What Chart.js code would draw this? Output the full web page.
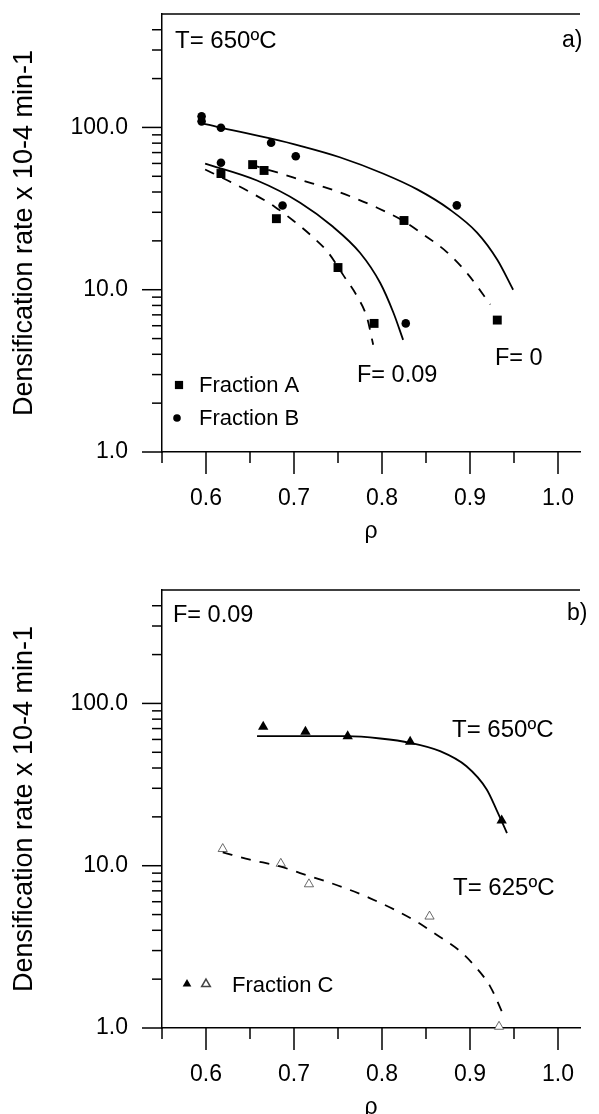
<!DOCTYPE html>
<html>
<head>
<meta charset="utf-8">
<script src="https://cdn.jsdelivr.net/npm/chart.js@4.4.1/dist/chart.umd.min.js"></script>
<style>
  html, body { margin: 0; padding: 0; background: #fff; overflow: hidden; }
  #wrap { position: relative; width: 599px; height: 1114px; overflow: hidden; }
  canvas { position: absolute; left: 0; }
  #chartA { top: 0; }
  #chartB { top: 576px; }
</style>
</head>
<body>
<div id="wrap">
  <canvas id="chartA" width="599" height="576"></canvas>
  <canvas id="chartB" width="599" height="576"></canvas>
</div>
<script>
// axis ticks (same for both panels)
const xMajor = [0.6, 0.7, 0.8, 0.9, 1.0];
const xMinor = [0.55, 0.65, 0.75, 0.85, 0.95];
const yMajor = [1, 10, 100];
const yMinor = [2, 3, 4, 5, 6, 7, 8, 9, 20, 30, 40, 50, 60, 70, 80, 90, 200, 300, 400];

// ---- panel a)  T = 650ºC, fractions A and B ----
const fracA_rho  = [0.617, 0.653, 0.666, 0.680, 0.750, 0.791, 0.825, 0.931];
const fracA_rate = [52.0, 59.0, 54.3, 27.4, 13.7, 6.2, 26.7, 6.5];
const fracB_rho  = [0.595, 0.595, 0.617, 0.617, 0.674, 0.687, 0.702, 0.827, 0.885];
const fracB_rate = [117, 109, 99.6, 60.6, 80.5, 33.0, 66.5, 6.2, 33.1];

// fitted curves
const fitF0B_rho  = [0.596, 0.619, 0.673, 0.707, 0.752, 0.801, 0.840, 0.877, 0.908, 0.931, 0.949];
const fitF0B_rate = [106, 99, 85.5, 77, 65.5, 52, 41.5, 31.2, 22.5, 15.3, 10.0];
const fitF0A_rho  = [0.650, 0.681, 0.710, 0.738, 0.764, 0.794, 0.824, 0.847, 0.874, 0.898, 0.923];
const fitF0A_rate = [59.1, 52.8, 47.1, 42.3, 37.6, 32.1, 26.6, 21.9, 17.0, 12.4, 8.1];
const fitF009B_rho  = [0.599, 0.658, 0.707, 0.744, 0.775, 0.798, 0.813, 0.824];
const fitF009B_rate = [59.9, 47.1, 34.4, 24.5, 16.9, 11.0, 7.21, 4.91];
const fitF009A_rho  = [0.599, 0.627, 0.655, 0.678, 0.699, 0.721, 0.739, 0.756, 0.772, 0.783, 0.790];
const fitF009A_rate = [55.1, 46.4, 38.6, 32.5, 26.7, 21.2, 16.9, 12.3, 9.05, 6.72, 4.58];

// ---- panel b)  F = 0.09, fraction C ----
const fracC650_rho  = [0.665, 0.713, 0.761, 0.832, 0.936];
const fracC650_rate = [71.8, 66.9, 62.8, 58.0, 19.0];
const fracC625_rho  = [0.619, 0.685, 0.717, 0.854, 0.933];
const fracC625_rate = [12.7, 10.3, 7.7, 4.87, 1.02];
const fit650_rho  = [0.658, 0.707, 0.760, 0.798, 0.832, 0.866, 0.896, 0.919, 0.930, 0.942];
const fit650_rate = [62.8, 62.8, 62.8, 60.8, 57.2, 50.8, 41.0, 29.5, 22.2, 15.9];
const fit625_rho  = [0.619, 0.650, 0.684, 0.707, 0.733, 0.760, 0.786, 0.813, 0.839, 0.862, 0.887, 0.906, 0.923, 0.938];
const fit625_rate = [12.1, 10.9, 9.91, 9.01, 8.12, 7.21, 6.32, 5.40, 4.53, 3.75, 3.03, 2.39, 1.80, 1.20];

const FONT = '"Liberation Sans", Arial, sans-serif';

function pts(xs, ys) {
  return xs.map((x, i) => ({ x: x, y: ys[i] }));
}

function markers(label, xs, ys, style) {
  return Object.assign({
    label: label,
    data: pts(xs, ys),
    showLine: false,
    backgroundColor: '#000',
    borderColor: '#000',
    borderWidth: 0,
    clip: false
  }, style);
}

function curve(label, xs, ys, dashed) {
  return {
    label: label,
    data: pts(xs, ys),
    showLine: true,
    fill: false,
    borderColor: '#000',
    borderWidth: 1.8,
    borderDash: dashed ? [10, 9] : [],
    pointRadius: 0,
    pointHoverRadius: 0,
    cubicInterpolationMode: 'monotone'
  };
}

// no extra label padding around the plot: the plot box is fixed
function noPad(s) {
  s.paddingTop = 0; s.paddingBottom = 0; s.paddingLeft = 0; s.paddingRight = 0;
}

// ticks, top frame line, in-plot texts and the small legend
const decorPlugin = {
  id: 'decor',
  afterDraw(chart, args, opts) {
    const ctx = chart.ctx;
    const area = chart.chartArea;
    const xs = chart.scales.x, ys = chart.scales.y;
    ctx.save();
    ctx.strokeStyle = '#000';
    ctx.lineWidth = 1.5;
    ctx.beginPath();
    ctx.moveTo(area.left, area.top);
    ctx.lineTo(area.right, area.top);
    ctx.stroke();

    const tick = (x1, y1, x2, y2) => {
      ctx.beginPath(); ctx.moveTo(x1, y1); ctx.lineTo(x2, y2); ctx.stroke();
    };
    xMajor.forEach(v => { const p = xs.getPixelForValue(v); tick(p, area.bottom, p, area.bottom + 22); });
    xMinor.forEach(v => { const p = xs.getPixelForValue(v); tick(p, area.bottom, p, area.bottom + 11); });
    yMajor.forEach(v => { const p = ys.getPixelForValue(v); tick(area.left - 20, p, area.left, p); });
    yMinor.forEach(v => { const p = ys.getPixelForValue(v); tick(area.left - 10, p, area.left, p); });

    ctx.fillStyle = '#000';
    ctx.textBaseline = 'alphabetic';
    ctx.textAlign = 'left';
    (opts.texts || []).forEach(t => {
      ctx.font = t.size + 'px ' + FONT;
      ctx.fillText(t.text, area.left + t.dx, area.top + t.dy);
    });
    (opts.keys || []).forEach(k => {
      ctx.fillStyle = k.fill;
      ctx.strokeStyle = k.stroke || '#000';
      Chart.helpers.drawPoint(ctx, {
        pointStyle: k.style, radius: k.radius, rotation: 0, borderWidth: k.borderWidth || 0
      }, area.left + k.dx, area.top + k.dy);
    });
    ctx.restore();
  }
};

function options(texts, keys) {
  return {
    responsive: false,
    animation: false,
    layout: { padding: { top: 14, right: 19, left: 0, bottom: 0 } },
    plugins: {
      legend: { display: false },
      tooltip: { enabled: false },
      decor: { texts: texts, keys: keys }
    },
    scales: {
      x: {
        type: 'linear',
        min: 0.55,
        max: 1.025,
        afterBuildTicks: s => { s.ticks = xMajor.map(v => ({ value: v })); },
        afterFit: s => { s.height = 124; noPad(s); },
        grid: { display: false, drawTicks: false },
        border: { display: true, color: '#000', width: 1.5 },
        ticks: {
          color: '#000',
          font: { family: FONT, size: 23 },
          padding: 33,
          autoSkip: false,
          maxRotation: 0,
          callback: v => Number(v).toFixed(1)
        },
        title: {
          display: true,
          text: 'ρ',
          color: '#000',
          font: { family: FONT, size: 23 },
          padding: { top: 0, bottom: 31 }
        }
      },
      y: {
        type: 'logarithmic',
        min: 1,
        max: 500,
        afterBuildTicks: s => { s.ticks = yMajor.map(v => ({ value: v })); },
        afterFit: s => { s.width = 162; noPad(s); },
        grid: { display: false, drawTicks: false },
        border: { display: true, color: '#000', width: 1.5 },
        ticks: {
          color: '#000',
          font: { family: FONT, size: 23 },
          padding: 34,
          autoSkip: false,
          callback: v => Number(v).toFixed(1)
        },
        title: {
          display: true,
          text: 'Densification rate x 10-4 min-1',
          color: '#000',
          font: { family: FONT, size: 27 },
          padding: { top: 8, bottom: 0 }
        }
      }
    }
  };
}

new Chart(document.getElementById('chartA'), {
  type: 'scatter',
  data: {
    datasets: [
      curve('F= 0, fraction B', fitF0B_rho, fitF0B_rate, false),
      curve('F= 0, fraction A', fitF0A_rho, fitF0A_rate, true),
      curve('F= 0.09, fraction B', fitF009B_rho, fitF009B_rate, false),
      curve('F= 0.09, fraction A', fitF009A_rho, fitF009A_rate, true),
      markers('Fraction A', fracA_rho, fracA_rate, { pointStyle: 'rect', pointRadius: 6.3 }),
      markers('Fraction B', fracB_rho, fracB_rate, { pointStyle: 'circle', pointRadius: 4.3 })
    ]
  },
  options: options(
    [
      { text: 'T= 650ºC', dx: 13, dy: 34, size: 24 },
      { text: 'a)', dx: 400, dy: 33, size: 23 },
      { text: 'F= 0.09', dx: 195, dy: 368, size: 23.5 },
      { text: 'F= 0', dx: 333, dy: 351, size: 23.5 },
      { text: 'Fraction A', dx: 37, dy: 378, size: 22 },
      { text: 'Fraction B', dx: 37, dy: 411, size: 22 }
    ],
    [
      { style: 'rect', radius: 5.8, dx: 17, dy: 371, fill: '#000' },
      { style: 'circle', radius: 3.8, dx: 15, dy: 404, fill: '#000' }
    ]
  ),
  plugins: [decorPlugin]
});

new Chart(document.getElementById('chartB'), {
  type: 'scatter',
  data: {
    datasets: [
      curve('T= 650ºC', fit650_rho, fit650_rate, false),
      curve('T= 625ºC', fit625_rho, fit625_rate, true),
      markers('Fraction C 650ºC', fracC650_rho, fracC650_rate, { pointStyle: 'triangle', pointRadius: 6 }),
      markers('Fraction C 625ºC', fracC625_rho, fracC625_rate, {
        pointStyle: 'triangle', pointRadius: 5.3, backgroundColor: '#fff', borderColor: '#444', borderWidth: 0.8
      })
    ]
  },
  options: options(
    [
      { text: 'F= 0.09', dx: 11, dy: 32, size: 23.5 },
      { text: 'b)', dx: 405, dy: 30, size: 23 },
      { text: 'T= 650ºC', dx: 290, dy: 147, size: 24 },
      { text: 'T= 625ºC', dx: 291, dy: 305, size: 24 },
      { text: 'Fraction C', dx: 70, dy: 402, size: 22 }
    ],
    [
      { style: 'triangle', radius: 5, dx: 25, dy: 394, fill: '#000' },
      { style: 'triangle', radius: 5, dx: 44, dy: 394, fill: '#fff', stroke: '#444', borderWidth: 0.8 }
    ]
  ),
  plugins: [decorPlugin]
});
</script>
</body>
</html>
